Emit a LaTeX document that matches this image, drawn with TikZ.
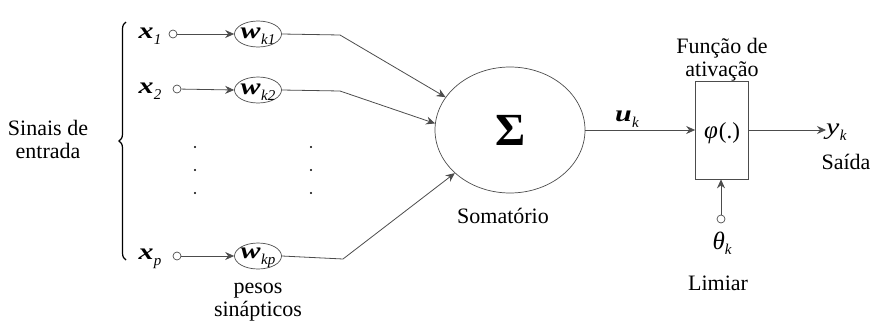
\documentclass[tikz,border=0pt]{standalone}
\usepackage{fontspec}
\setmainfont{Liberation Serif}
\usetikzlibrary{arrows.meta,shapes.geometric,decorations.pathreplacing}
\newcommand{\mysym}[3][1]{\scalebox{1.3}[1]{\fontsize{23}{23}\selectfont\ifnum#1=1\bfseries\fi\itshape #2}\kern0.5pt\raisebox{-6pt}{\fontsize{15}{15}\selectfont\itshape #3}}
\tikzset{
  wire/.style={draw=black!70, line width=0.8pt},
  arr/.style={wire, -{Stealth[length=9pt,width=8pt,inset=3pt]}},
  incirc/.style={circle, draw=black!70, line width=0.7pt, minimum size=8pt, inner sep=0pt},
  wnode/.style={ellipse, draw=black!70, line width=0.7pt, minimum width=47pt, minimum height=26pt, inner sep=0pt},
  txt/.style={font=\fontsize{22}{23}\selectfont, align=center, inner sep=0pt},
  dotp/.style={circle, fill=black, inner sep=0pt, minimum size=2.4pt}
}
\begin{document}
\begin{tikzpicture}[x=1pt,y=-1pt]
\useasboundingbox (0,0) rectangle (872,327);
% brace and left label
\coordinate (bt) at (126,22);
\coordinate (bb) at (126,260);
\draw[line width=1.2pt, decorate, decoration={brace, amplitude=7pt}] (bb) -- (bt);
\node[txt] (sinais) at (48,139) {Sinais de\\entrada};
% inputs
\node[inner sep=0pt] (x1) at (150,36) {\mysym{x}{1}};
\node[inner sep=0pt] (x2) at (150,91) {\mysym{x}{2}};
\node[inner sep=0pt] (xp) at (150,259) {\mysym{x}{p}};
\node[incirc] (c1) at (173,34) {};
\node[incirc] (c2) at (177,89) {};
\node[incirc] (cp) at (177,256) {};
% weights
\node[wnode] (w1) at (258,34) {};
\node[wnode] (w2) at (258,90) {};
\node[wnode] (wp) at (258,256) {};
\node[inner sep=0pt] (lw1) at (258,36) {\mysym{w}{k1}};
\node[inner sep=0pt] (lw2) at (258,92) {\mysym{w}{k2}};
\node[inner sep=0pt] (lwp) at (258,258) {\mysym{w}{kp}};
\draw[arr] (c1) -- (w1.west);
\draw[arr] (c2) -- (w2.west);
\draw[arr] (cp) -- (wp.west);
% dots
\foreach \yy/\n in {147/a,170/b,193/c}{
  \node[dotp] (d1\n) at (195,\yy) {};
  \node[dotp] (d2\n) at (311,\yy) {};
}
\node[txt] (pesos) at (258,302) {pesos\\sinápticos};
% summation
\node[ellipse, draw=black!70, line width=0.7pt, minimum width=150pt, minimum height=126pt, inner sep=0pt] (s) at (510,130) {};
\node[inner sep=0pt] (sig) at (511,130) {\fontsize{46}{46}\selectfont\bfseries Σ};
\node[txt] (soma) at (503,216) {Somatório};
\coordinate (b1) at (340,35);
\coordinate (b2) at (340,91);
\coordinate (bp) at (343,259);
\draw[arr] (w1.east) -- (b1) -- (s.153);
\draw[arr] (w2.east) -- (b2) -- (s.175);
\draw[arr] (wp.east) -- (bp) -- (s.218);
% activation
\node[draw=black!70, line width=0.7pt, minimum width=53pt, minimum height=98pt, inner sep=0pt] (box) at (722,130) {};
\node[inner sep=0pt] (phi) at (722,133) {{\fontsize{25}{25}\selectfont\itshape φ}\kern1pt{\fontsize{23}{23}\selectfont(.)}};
\node[txt] (func) at (722,60) {Função de\\ativação};
\draw[arr] (s.east) -- (box.west);
\node[inner sep=0pt] (uk) at (627,119) {\mysym{u}{k}};
\node[inner sep=0pt, anchor=west] (yk) at (826,132) {\mysym[0]{y}{k}};
\draw[arr] (box.east) -- (yk.west |- box.east);
\node[txt] (saida) at (846,162) {Saída};
% threshold
\node[incirc] (th) at (721,219) {};
\draw[arr] (th) -- (box.south -| th);
\node[inner sep=0pt] (thk) at (722,243) {{\fontsize{25}{25}\selectfont\itshape θ}\raisebox{-5pt}{\fontsize{15}{15}\selectfont\itshape k}};
\node[txt] (lim) at (718,283) {Limiar};
\end{tikzpicture}
\end{document}
